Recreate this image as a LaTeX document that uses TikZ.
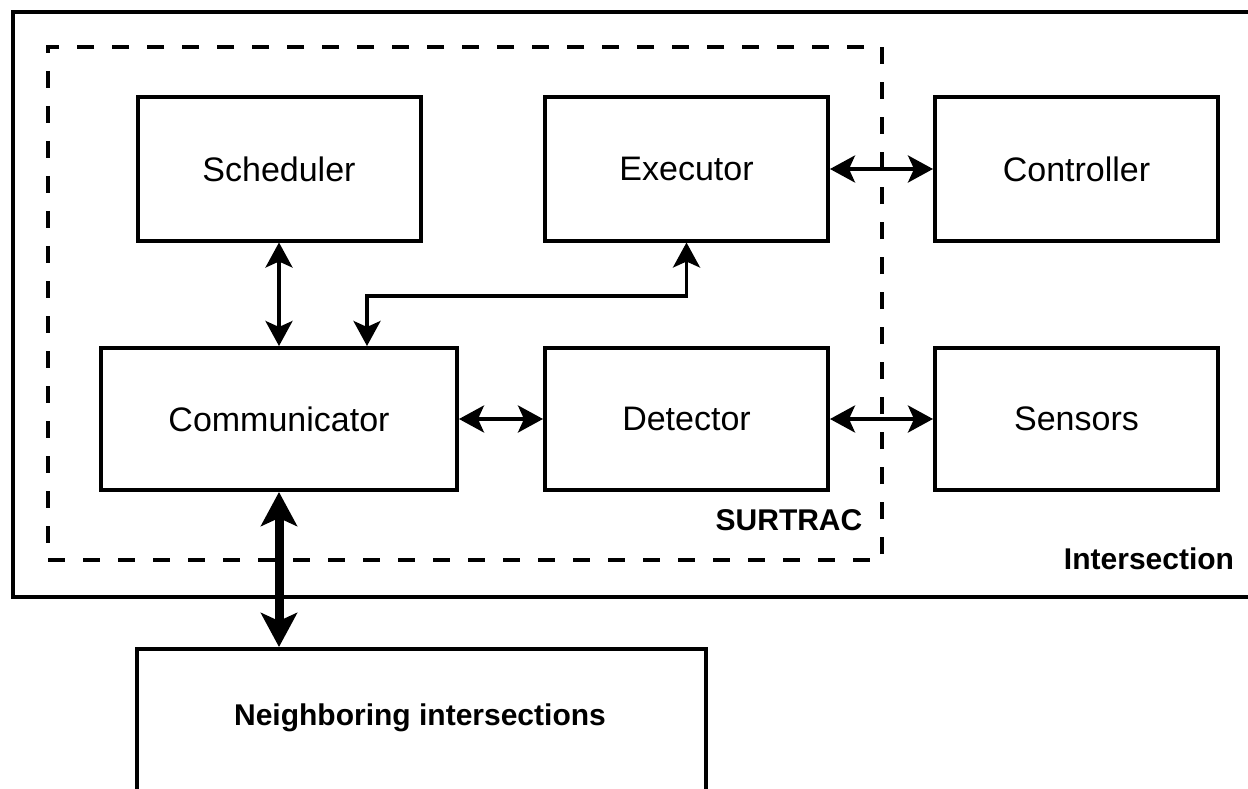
\documentclass[tikz,border=0pt]{standalone}
\usepackage{fontspec}
\setmainfont{Liberation Sans}
\usetikzlibrary{arrows.meta}
\begin{document}
\begin{tikzpicture}[x=1pt,y=-1pt,
  blk/.style={draw,line width=4pt,inner sep=0pt,minimum width=283pt,minimum height=143pt,font=\fontsize{34}{40}\selectfont},
  lbl/.style={font=\fontsize{30}{36}\selectfont\bfseries,inner sep=0pt,anchor=base},
  conn/.style={line width=3.5pt,{Stealth[length=25pt,width=27pt,inset=6pt]}-{Stealth[length=25pt,width=27pt,inset=6pt]}},
  thick conn/.style={line width=9pt,{Stealth[length=34pt,width=36pt,inset=8pt]}-{Stealth[length=34pt,width=36pt,inset=8pt]}}]
\useasboundingbox (0,0) rectangle (1248,789);
\clip (0,0) rectangle (1248,789);
% outer intersection box (right edge beyond the picture)
\node[draw,line width=4pt,inner sep=0pt,minimum width=1260pt,minimum height=585pt] (inter) at (643,304.5) {};
% SURTRAC dashed box
\node[draw,line width=4pt,dash pattern=on 17pt off 18pt,inner sep=0pt,minimum width=834pt,minimum height=513pt] (surtrac) at (465,303.5) {};
% blocks
\node[blk] (sch) at (279,169) {Scheduler};
\node[blk] (exe) at (686.5,169) {Executor};
\node[blk] (ctl) at (1076.5,169) {Controller};
\node[blk,minimum width=356pt,minimum height=142pt] (com) at (279,419) {Communicator};
\node[blk,minimum height=142pt] (det) at (686.5,419) {Detector};
\node[blk,minimum height=142pt] (sen) at (1076.5,419) {Sensors};
% neighboring intersections (bottom edge beyond the picture)
\node[draw,line width=4pt,inner sep=0pt,minimum width=569pt,minimum height=160pt] (nb) at (421.5,729) {};
\node[font=\fontsize{30}{36}\selectfont\bfseries,inner sep=0pt] (nbt) at (420,718) {Neighboring intersections};
% labels
\node[lbl] (sl) at (789,530) {SURTRAC};
\node[lbl] (il) at (1149,569) {Intersection};
% connectors
\coordinate (m) at (367,296);
\draw[conn] (sch.south) -- (sch.south |- com.north);
\draw[conn] (exe.south) |- (m) -- (m |- com.north);
\draw[conn] (com.east) -- (det.west);
\draw[conn] (exe.east) -- (ctl.west);
\draw[conn] (det.east) -- (sen.west);
\draw[thick conn] (com.south) -- (com.south |- nb.north);
\end{tikzpicture}
\end{document}
